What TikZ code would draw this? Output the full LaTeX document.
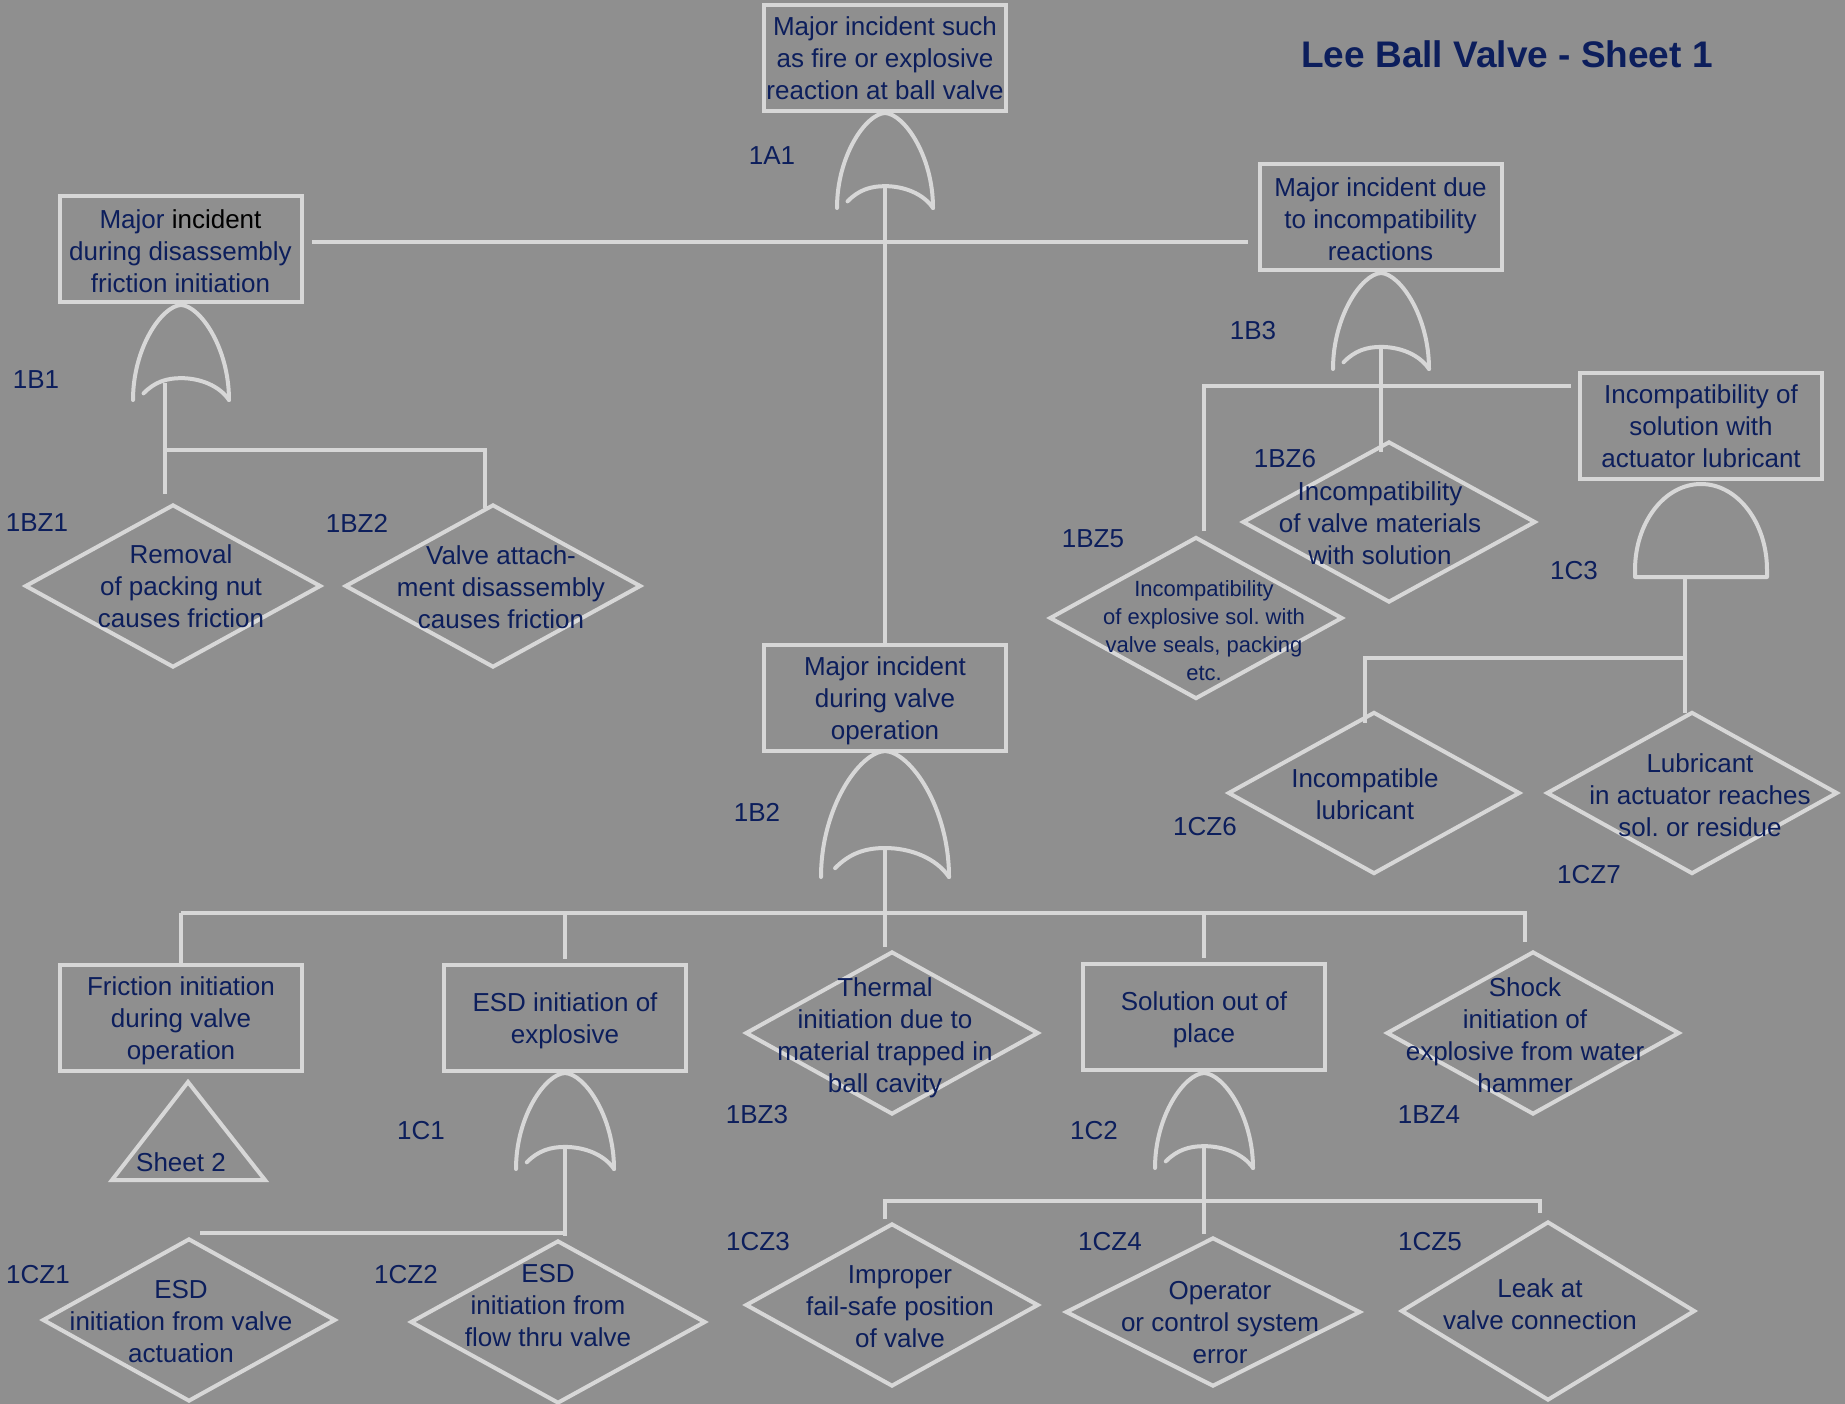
\documentclass[tikz,border=0pt]{standalone}
\usepackage{fontspec}
\setmainfont{Liberation Sans}
\usetikzlibrary{shapes.geometric}

\definecolor{bgc}{HTML}{8F8F8F}
\definecolor{linec}{HTML}{D7D7D7}
\definecolor{inkc}{HTML}{0C1E5C}

\tikzset{
  every node/.style={text=inkc},
  wire/.style={draw=linec, line width=4pt},
  gateline/.style={draw=linec, line width=4pt, line cap=round, line join=round},
  evbox/.style={draw=linec, line width=4pt, minimum width=242pt, minimum height=106pt,
    inner sep=0pt, align=center, font=\fontsize{26}{32}\selectfont},
  basic/.style 2 args={shape=diamond, draw=linec, line width=4pt,
    minimum width=#1, minimum height=#2, inner sep=0pt},
  desc/.style={align=center, inner sep=0pt, font=\fontsize{26}{32}\selectfont},
  descsmall/.style={align=center, inner sep=0pt, font=\fontsize{22}{28}\selectfont},
  gid/.style={inner sep=0pt, font=\fontsize{26}{32}\selectfont},
}

% box text, lowered a little inside its frame
\newcommand\bx[2][3pt]{\raisebox{-#1}[\height][\depth]{\begin{tabular}{@{}c@{}}#2\end{tabular}}}

% OR gate: centre x, top y, bottom y, half width
\newcommand\orgate[4]{%
  \draw[gateline] ({#1-#4},#3) .. controls ({#1-#4},{#3-0.55*(#3-#2)}) and ({#1-0.4*#4},{#2+0.01*(#3-#2)}) .. (#1,#2)
     .. controls ({#1+0.4*#4},{#2+0.01*(#3-#2)}) and ({#1+#4},{#3-0.55*(#3-#2)}) .. ({#1+#4},#3);
  \draw[gateline] ({#1-0.78*#4},{#3-0.07*(#3-#2)})
     .. controls ({#1-0.55*#4},{#3-0.19*(#3-#2)}) and ({#1-0.3*#4},{#3-0.23*(#3-#2)}) .. (#1,{#3-0.23*(#3-#2)})
     .. controls ({#1+0.4*#4},{#3-0.23*(#3-#2)}) and ({#1+0.8*#4},{#3-0.15*(#3-#2)}) .. ({#1+#4},#3);
}
% AND gate: centre x, top y, bottom y, half width
\newcommand\andgate[4]{%
  \draw[gateline] ({#1-#4},#3) -- ({#1-#4},{#3-7})
     .. controls ({#1-#4},{#3-7-0.5523*(#3-7-#2)}) and ({#1-0.5523*#4},#2) .. (#1,#2)
     .. controls ({#1+0.5523*#4},#2) and ({#1+#4},{#3-7-0.5523*(#3-7-#2)}) .. ({#1+#4},{#3-7})
     -- ({#1+#4},#3) -- cycle;
}

\begin{document}
\frenchspacing
\begin{tikzpicture}[x=1pt, y=-1pt]
\fill[bgc] (0,0) rectangle (1845,1404);
\useasboundingbox (0,0) rectangle (1845,1404);

% title
\node[font=\fontsize{37}{44}\selectfont\bfseries, inner sep=0pt] (title) at (1507,54) {Lee Ball Valve - Sheet 1};

% intermediate events
\node[evbox] (a1) at (885,58) {\bx[3.5pt]{Major incident such\\as fire or explosive\\reaction at ball valve}};
\node[evbox] (b1) at (180.5,249.5) {\bx[4.5pt]{Major {\color{black}incident}\\during disassembly\\friction initiation}};
\node[evbox] (b3) at (1380.5,217.5) {\bx[4.5pt]{Major incident due\\to incompatibility\\reactions}};
\node[evbox] (c3) at (1701,426) {\bx[3.5pt]{Incompatibility of\\solution with\\actuator lubricant}};
\node[evbox] (b2) at (885,698) {\bx{Major incident\\during valve\\operation}};
\node[evbox] (fr) at (181,1018) {\bx{Friction initiation\\during valve\\operation}};
\node[evbox] (esd) at (565,1018) {\bx{ESD initiation of\\explosive}};
\node[evbox] (sol) at (1204,1017) {\bx{Solution out of\\place}};

% basic events
\node[basic={296pt}{163pt}] (bz1) at (173,586) {};
\node[desc] (bz1t) at (181,586) {Removal\\of packing nut\\causes friction};
\node[basic={296pt}{163pt}] (bz2) at (493,586) {};
\node[desc] (bz2t) at (501,587) {Valve attach-\\ment disassembly\\causes friction};
\node[basic={293pt}{161pt}] (bz6) at (1389,522) {};
\node[desc] (bz6t) at (1380,523) {Incompatibility\\of valve materials\\with solution};
\node[basic={293pt}{162pt}] (bz5) at (1196,618) {};
\node[descsmall] (bz5t) at (1204,631) {Incompatibility\\of explosive sol. with\\valve seals, packing\\etc.};
\node[basic={292pt}{162pt}] (cz6) at (1374,793) {};
\node[desc] (cz6t) at (1365,794) {Incompatible\\lubricant};
\node[basic={291pt}{162pt}] (cz7) at (1692,793) {};
\node[desc] (cz7t) at (1700,795) {Lubricant\\in actuator reaches\\sol. or residue};
\node[basic={293pt}{163pt}] (bz3) at (892,1033) {};
\node[desc] (bz3t) at (885,1037.5) {Thermal\\initiation due to\\material trapped in\\ball cavity};
\node[basic={293pt}{163pt}] (bz4) at (1533,1033) {};
\node[desc] (bz4t) at (1525,1035) {Shock\\initiation of\\explosive from water\\hammer};
\node[basic={293pt}{163pt}] (cz1) at (189,1320) {};
\node[desc] (cz1t) at (181,1322) {ESD\\initiation from valve\\actuation};
\node[basic={295pt}{163pt}] (cz2) at (558,1322) {};
\node[desc] (cz2t) at (548,1306) {ESD\\initiation from\\flow thru valve};
\node[basic={293pt}{163pt}] (cz3) at (892,1305) {};
\node[desc] (cz3t) at (900,1307) {Improper\\fail-safe position\\of valve};
\node[basic={295pt}{149pt}] (cz4) at (1213,1312) {};
\node[desc] (cz4t) at (1220,1322.5) {Operator\\or control system\\error};
\node[basic={294pt}{179pt}] (cz5) at (1548,1311) {};
\node[desc] (cz5t) at (1540,1304.5) {Leak at\\valve connection};

% transfer to sheet 2
\coordinate (tr-top) at (188,1082);
\coordinate (tr-r) at (265,1180);
\coordinate (tr-l) at (112,1180);
\draw[wire, line join=miter] (tr-top) -- (tr-r) -- (tr-l) -- cycle;
\node[desc] (sheet2) at (181,1162) {Sheet 2};

% gates
\orgate{885}{113}{208}{48}
\orgate{181}{305}{400}{48}
\orgate{1381}{273}{369}{48}
\orgate{885}{751}{877}{64}
\orgate{565}{1073}{1169}{49}
\orgate{1204}{1073}{1168}{49}
\andgate{1701}{484}{577}{66}

% gate identifiers
\node[gid] (l1a1) at (772,156) {1A1};
\node[gid] (l1b1) at (36,380) {1B1};
\node[gid] (l1bz1) at (37,523) {1BZ1};
\node[gid] (l1bz2) at (357,523) {1BZ2};
\node[gid] (l1b3) at (1253,331) {1B3};
\node[gid] (l1bz6) at (1285,459) {1BZ6};
\node[gid] (l1bz5) at (1093,539) {1BZ5};
\node[gid] (l1c3) at (1574,571) {1C3};
\node[gid] (l1b2) at (757,812) {1B2};
\node[gid] (l1cz6) at (1205,827) {1CZ6};
\node[gid] (l1cz7) at (1589,875) {1CZ7};
\node[gid] (l1bz3) at (757,1115) {1BZ3};
\node[gid] (l1bz4) at (1429,1115) {1BZ4};
\node[gid] (l1c1) at (421,1131) {1C1};
\node[gid] (l1c2) at (1094,1131) {1C2};
\node[gid] (l1cz3) at (758,1242) {1CZ3};
\node[gid] (l1cz4) at (1110,1242) {1CZ4};
\node[gid] (l1cz5) at (1430,1242) {1CZ5};
\node[gid] (l1cz1) at (38,1275) {1CZ1};
\node[gid] (l1cz2) at (406,1275) {1CZ2};

% junction points
\coordinate (a1-in) at (885,186);
\coordinate (a1-l) at (312,242);
\coordinate (a1-r) at (1248,242);
\coordinate (b1-in) at (165,383);
\coordinate (b1-j) at (165,450);
\coordinate (b1-a) at (165,494);
\coordinate (b1-c) at (485,450);
\coordinate (b1-b) at (485,508);
\coordinate (b3-in) at (1381,347);
\coordinate (b3-a) at (1381,452);
\coordinate (b3-l) at (1204,386);
\coordinate (b3-ld) at (1204,531);
\coordinate (b3-r) at (1571,386);
\coordinate (c3-in) at (1685,577);
\coordinate (c3-j) at (1685,658);
\coordinate (c3-b) at (1685,713);
\coordinate (c3-l) at (1365,658);
\coordinate (c3-a) at (1365,723);
\coordinate (b2-in) at (885,848);
\coordinate (b2-j) at (885,913);
\coordinate (b2-c) at (885,947);
\coordinate (b2-l) at (181,913);
\coordinate (b2-r) at (1525,913);
\coordinate (b2-rd) at (1525,942);
\coordinate (b2-e) at (565,913);
\coordinate (b2-ed) at (565,959);
\coordinate (b2-s) at (1204,913);
\coordinate (b2-sd) at (1204,958);
\coordinate (c1-in) at (565,1147);
\coordinate (c1-j) at (565,1233);
\coordinate (c1-b) at (565,1236);
\coordinate (c1-l) at (200,1233);
\coordinate (c2-in) at (1204,1146);
\coordinate (c2-j) at (1204,1201);
\coordinate (c2-b) at (1204,1234);
\coordinate (c2-l) at (885,1201);
\coordinate (c2-ld) at (885,1219);
\coordinate (c2-r) at (1540,1201);
\coordinate (c2-rd) at (1540,1213);

% connectors
\draw[wire] (a1-in) -- (b2.north);
\draw[wire] (a1-l) -- (a1-r);
\draw[wire] (b1-in) -- (b1-a);
\draw[wire] (b1-j) -- (b1-c) -- (b1-b);
\draw[wire] (b3-in) -- (b3-a);
\draw[wire] (b3-ld) -- (b3-l) -- (b3-r);
\draw[wire] (c3-in) -- (c3-b);
\draw[wire] (c3-j) -- (c3-l) -- (c3-a);
\draw[wire] (b2-in) -- (b2-c);
\draw[wire] (b2-l) -- (b2-r) -- (b2-rd);
\draw[wire] (b2-l) -- (fr.north);
\draw[wire] (b2-e) -- (b2-ed);
\draw[wire] (b2-s) -- (b2-sd);
\draw[wire] (c1-in) -- (c1-b);
\draw[wire] (c1-l) -- (c1-j);
\draw[wire] (c2-in) -- (c2-b);
\draw[wire] (c2-ld) -- (c2-l) -- (c2-r) -- (c2-rd);
\end{tikzpicture}
\end{document}
